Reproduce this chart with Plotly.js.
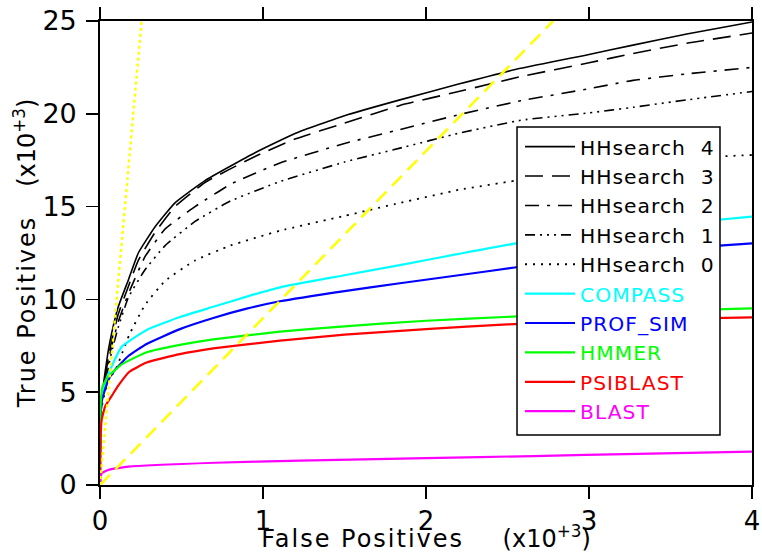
<!DOCTYPE html>
<html>
<head>
<meta charset="utf-8">
<script src="https://cdn.plot.ly/plotly-3.0.1.min.js"></script>
<style>
  html, body { margin: 0; padding: 0; background: #fff; }
  #chart { width: 762px; height: 557px; }
  .legendtext { letter-spacing: 1px; }
</style>
</head>
<body>
<div id="chart"></div>
<script>
// False positives (x1000) and true positives (x1000)
const hh4X = [0, 0.005, 0.015, 0.03, 0.05, 0.072, 0.112, 0.174, 0.235, 0.337, 0.46, 0.644, 0.951, 1.2, 1.5, 1.84, 2.2, 2.58, 3.0, 3.27, 3.6, 4.0];
const hh4Y = [0, 4.0, 5.0, 6.0, 7.2, 8.2, 9.6, 11.05, 12.5, 13.9, 15.2, 16.4, 17.9, 18.95, 19.9, 20.75, 21.6, 22.45, 23.2, 23.7, 24.3, 24.95];

const hh3X = [0, 0.005, 0.015, 0.03, 0.05, 0.072, 0.112, 0.174, 0.235, 0.337, 0.46, 0.644, 0.951, 1.2, 1.5, 1.84, 2.2, 2.58, 3.0, 3.27, 3.6, 4.0];
const hh3Y = [0, 3.9, 4.8, 5.7, 6.8, 7.8, 9.2, 10.7, 12.1, 13.6, 15.0, 16.3, 17.7, 18.65, 19.5, 20.45, 21.2, 22.0, 22.75, 23.25, 23.8, 24.35];

const hh2X = [0, 0.005, 0.015, 0.03, 0.05, 0.072, 0.112, 0.174, 0.276, 0.4, 0.583, 0.8, 1.104, 1.5, 1.84, 2.2, 2.58, 3.0, 3.27, 3.6, 4.0];
const hh2Y = [0, 3.9, 4.8, 5.6, 6.6, 7.5, 8.8, 10.3, 12.3, 13.8, 15.0, 16.2, 17.35, 18.4, 19.15, 19.95, 20.7, 21.35, 21.8, 22.15, 22.5];

const hh1X = [0, 0.005, 0.015, 0.03, 0.05, 0.072, 0.112, 0.174, 0.276, 0.4, 0.583, 0.8, 1.104, 1.5, 1.84, 2.2, 2.58, 3.0, 3.27, 3.6, 4.0];
const hh1Y = [0, 3.8, 4.7, 5.5, 6.3, 7.2, 8.5, 10.1, 11.6, 12.9, 14.2, 15.3, 16.35, 17.4, 18.15, 18.95, 19.65, 20.05, 20.35, 20.75, 21.2];

const hh0X = [0, 0.005, 0.015, 0.03, 0.051, 0.1, 0.14, 0.18, 0.276, 0.4, 0.583, 0.8, 1.104, 1.5, 1.84, 2.2, 2.55, 3.0, 3.4, 3.8, 4.0];
const hh0Y = [0, 3.6, 4.4, 5.0, 5.6, 6.3, 7.2, 8.1, 9.7, 11.0, 12.1, 12.9, 13.7, 14.5, 15.2, 15.9, 16.4, 16.95, 17.4, 17.7, 17.78];

const compassX = [0, 0.003, 0.01, 0.031, 0.072, 0.133, 0.286, 0.49, 0.695, 0.9, 1.104, 1.5, 1.84, 2.2, 2.58, 3.0, 3.5, 4.0];
const compassY = [0, 3.5, 4.6, 5.5, 6.4, 7.45, 8.35, 9.05, 9.6, 10.15, 10.65, 11.3, 11.85, 12.45, 13.06, 13.5, 14.05, 14.46];

const profsimX = [0, 0.003, 0.01, 0.051, 0.092, 0.174, 0.286, 0.49, 0.695, 0.9, 1.104, 1.5, 1.84, 2.2, 2.58, 3.0, 3.5, 3.8, 4.0];
const profsimY = [0, 3.5, 4.5, 5.66, 6.2, 6.95, 7.6, 8.4, 9.0, 9.5, 9.9, 10.45, 10.87, 11.3, 11.76, 12.2, 12.65, 12.9, 13.02];

const hmmerX = [0, 0.002, 0.005, 0.015, 0.051, 0.133, 0.286, 0.49, 0.695, 1.104, 1.5, 2.0, 2.53, 3.0, 3.5, 4.0];
const hmmerY = [0, 3.5, 4.5, 5.3, 5.84, 6.5, 7.15, 7.55, 7.85, 8.26, 8.55, 8.85, 9.07, 9.25, 9.4, 9.52];

const psiblastX = [0, 0.003, 0.01, 0.031, 0.072, 0.112, 0.18, 0.286, 0.49, 0.695, 1.104, 1.5, 2.0, 2.5, 3.0, 3.5, 4.0];
const psiblastY = [0, 2.5, 3.5, 4.22, 4.8, 5.35, 6.1, 6.6, 7.05, 7.36, 7.78, 8.1, 8.4, 8.65, 8.82, 8.95, 9.03];

const blastX = [0, 0.002, 0.005, 0.01, 0.051, 0.174, 0.706, 1.227, 2.0, 2.66, 3.3, 4.0];
const blastY = [0, 0.2, 0.45, 0.63, 0.81, 0.99, 1.2, 1.31, 1.45, 1.56, 1.68, 1.8];

// Yellow reference lines
const refSteepX = [0, 0.255];
const refSteepY = [0, 25];
const refShallowX = [0, 2.78];
const refShallowY = [0, 25];

// Tick values
const xTicks = [0, 1, 2, 3, 4];
const yTicks = [0, 5, 10, 15, 20, 25];
const y2Ticks = [0, 1, 2, 3, 4];

const NB = '\u00A0';
const FONT = 'DejaVu Sans, Liberation Sans, sans-serif';

function series(x, y, name, color, dash, width) {
  return {
    x: x, y: y, type: 'scatter', mode: 'lines', name: name,
    line: { color: color, dash: dash, width: width, shape: 'spline', smoothing: 0.4 },
    hoverinfo: 'skip'
  };
}
function colored(name, color) {
  return '<span style="color:' + color + '">' + name + '</span>';
}
function spaced(txt) {
  return '<span style="letter-spacing:2px">' + txt + '</span>';
}

const traces = [
  series(hh4X, hh4Y, 'HHsearch' + NB + NB + '4', '#000000', 'solid', 1.6),
  series(hh3X, hh3Y, 'HHsearch' + NB + NB + '3', '#000000', '18px,9px', 1.6),
  series(hh2X, hh2Y, 'HHsearch' + NB + NB + '2', '#000000', '14px,8px,3px,8px', 1.6),
  series(hh1X, hh1Y, 'HHsearch' + NB + NB + '1', '#000000', '10px,5px,2px,5px,2px,5px,2px,5px', 1.6),
  series(hh0X, hh0Y, 'HHsearch' + NB + NB + '0', '#000000', '2px,6px', 1.8),
  series(compassX, compassY, colored('COMPASS', '#00ffff'), '#00ffff', 'solid', 2.2),
  series(profsimX, profsimY, colored('PROF_SIM', '#0000ff'), '#0000ff', 'solid', 2.2),
  series(hmmerX, hmmerY, colored('HMMER', '#00ff00'), '#00ff00', 'solid', 2.2),
  series(psiblastX, psiblastY, colored('PSIBLAST', '#ff0000'), '#ff0000', 'solid', 2.2),
  series(blastX, blastY, colored('BLAST', '#ff00ff'), '#ff00ff', 'solid', 2.2),
  { x: refSteepX, y: refSteepY, type: 'scatter', mode: 'lines', showlegend: false, hoverinfo: 'skip',
    line: { color: '#ffff00', dash: '3px,3px', width: 2.4 } },
  { x: refShallowX, y: refShallowY, type: 'scatter', mode: 'lines', showlegend: false, hoverinfo: 'skip',
    line: { color: '#ffff00', dash: '14px,8px', width: 2.5 } }
];

const layout = {
  width: 762, height: 557,
  margin: { l: 100, r: 10, t: 21, b: 72, pad: 0 },
  paper_bgcolor: '#ffffff', plot_bgcolor: '#ffffff',
  font: { family: FONT, color: '#000000', size: 20 },
  showlegend: true,
  legend: {
    x: 0.6442, xanchor: 'left', y: 0.7716, yanchor: 'top',
    bgcolor: 'rgba(0,0,0,0)', borderwidth: 0,
    font: { family: FONT, size: 20.3, color: '#000000' },
    itemwidth: 50, traceorder: 'normal', tracegroupgap: 0
  },
  shapes: [{
    type: 'rect', xref: 'paper', yref: 'paper',
    x0: 0.6396, x1: 0.9509, y0: 0.1078, y1: 0.7716,
    fillcolor: '#ffffff', line: { color: '#000000', width: 1.5 }, layer: 'above'
  }],
  xaxis: {
    range: [0, 4], tickvals: xTicks, ticktext: xTicks.map(String),
    ticks: 'outside', ticklen: 12, tickwidth: 1.5, tickcolor: '#000000',
    showline: true, linecolor: '#000000', linewidth: 1.8, mirror: 'ticks',
    showgrid: false, zeroline: false,
    tickfont: { family: FONT, size: 26, color: '#000000' },
    title: { text: spaced('False Positives' + NB + NB + NB + NB) + '(x10<sup>+3</sup>)', font: { family: FONT, size: 24, color: '#000000' }, standoff: 0 },
    automargin: false, fixedrange: true
  },
  yaxis: {
    range: [0, 25], tickvals: yTicks, ticktext: yTicks.map(String),
    ticks: 'outside', ticklen: 12, tickwidth: 1.5, tickcolor: '#000000',
    showline: true, linecolor: '#000000', linewidth: 1.8, mirror: true,
    showgrid: false, zeroline: false,
    tickfont: { family: FONT, size: 27, color: '#000000' },
    ticklabelstandoff: 4,
    title: { text: spaced('True Positives' + NB + NB + NB) + '(x10<sup>+3</sup>)', font: { family: FONT, size: 24, color: '#000000' }, standoff: 0 },
    automargin: false, fixedrange: true
  },
  yaxis2: {
    overlaying: 'y', side: 'right', range: [0, 4], tickvals: y2Ticks,
    ticks: 'outside', ticklen: 12, tickwidth: 1.5, tickcolor: '#000000',
    showticklabels: false, showline: false, showgrid: false, zeroline: false,
    fixedrange: true
  }
};

Plotly.newPlot('chart', traces, layout, { staticPlot: true, displayModeBar: false }).then(function (gd) {
  var g = gd.querySelector('.g-xtitle');
  if (g) g.setAttribute('transform', 'translate(0,-5)');
});
</script>
</body>
</html>
